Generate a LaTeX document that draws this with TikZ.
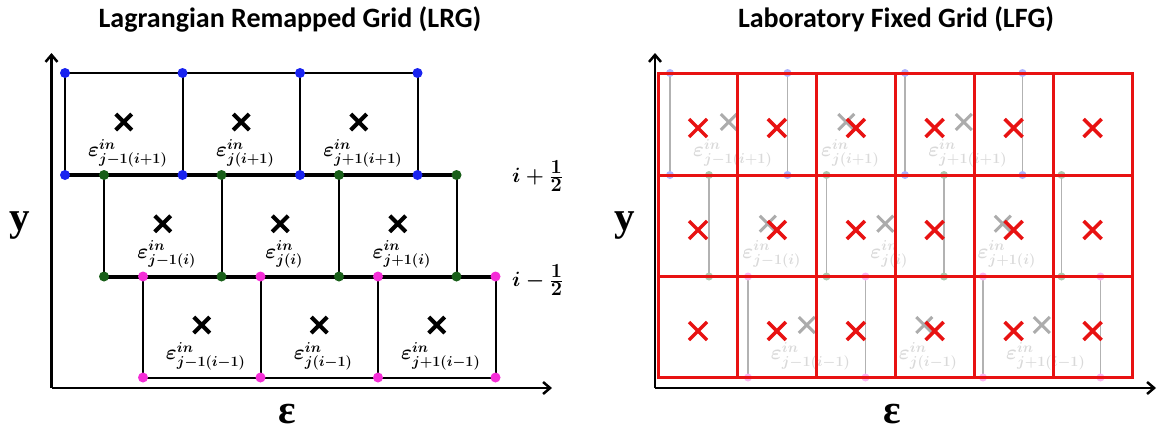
\documentclass[tikz,border=0pt]{standalone}
\usepackage{fontspec}
\newfontfamily\titelfont{Carlito}
\newfontfamily\achsenfont{Liberation Serif}
\usetikzlibrary{arrows.meta}
\definecolor{punktblau}{RGB}{25,35,240}
\definecolor{punktgruen}{RGB}{25,95,25}
\definecolor{punktpink}{RGB}{245,45,215}
\definecolor{gitterrot}{RGB}{232,18,18}
\newcommand{\halbziffer}[1]{\hbox{\fontsize{20}{22}\selectfont\bfseries #1}}

\begin{document}
\begin{tikzpicture}[x=1pt,y=-1pt,
	duenn/.style={line width=2pt},
	dick/.style={line width=4pt},
	achse/.style={line width=2.5pt,-{Straight Barb[length=7pt,width=12pt]}},
	kreuz/.style={line width=4pt},
	eps/.style={inner sep=0pt,font=\fontsize{21}{24}\selectfont\boldmath},
	zeile/.style={anchor=west,inner sep=0pt,font=\fontsize{21}{26}\selectfont\boldmath},
	titel/.style={anchor=base,font=\titelfont\bfseries\fontsize{28}{30}\selectfont},
	achsbez/.style={inner sep=0pt,font=\achsenfont\bfseries\fontsize{41}{44}\selectfont},
	grau/.style={gray!60,line width=1.5pt},
	graukreuz/.style={gray!65,line width=3pt},
	graueps/.style={eps,text=gray!30},
	rot/.style={gitterrot,line width=3pt},
	rotkreuz/.style={gitterrot,line width=3.5pt}]
	
	\useasboundingbox (0,0) rectangle (1157,432);
	
	% ----- Lagrangian Remapped Grid -----
	\node[titel] (titelLRG) at (290,27.5) {Lagrangian Remapped Grid (LRG)};
	
	% Achsen
	\coordinate (O1) at (51.5,388);
	\draw[achse] (O1) -- (51.5,53);
	\draw[achse] (O1) -- (552,388);
	\node[achsbez] (yLRG) at (20,226) {y};
	\node[achsbez] (epsLRG) at (287,414) {ε};
	
	% Zeile oben
	\draw[duenn] (65,73) -- (417.5,73);
	\draw[duenn] (65,73) -- (65,175);
	\draw[duenn] (182.5,73) -- (182.5,175);
	\draw[duenn] (300,73) -- (300,175);
	\draw[duenn] (417.5,73) -- (417.5,175);
	
	% Zeile mitte
	\draw[dick] (65,175) -- (456.5,175);
	\draw[duenn] (104,175) -- (104,276.5);
	\draw[duenn] (221.5,175) -- (221.5,276.5);
	\draw[duenn] (339,175) -- (339,276.5);
	\draw[duenn] (456.5,175) -- (456.5,276.5);
	
	% Zeile unten
	\draw[dick] (104,276.5) -- (495.5,276.5);
	\draw[duenn] (143,276.5) -- (143,377.5);
	\draw[duenn] (260.5,276.5) -- (260.5,377.5);
	\draw[duenn] (378,276.5) -- (378,377.5);
	\draw[duenn] (495.5,276.5) -- (495.5,377.5);
	\draw[duenn] (143,377.5) -- (495.5,377.5);
	
	% Knoten
	\fill[punktblau] (65,73) circle[radius=5pt];
	\fill[punktblau] (182.5,73) circle[radius=5pt];
	\fill[punktblau] (300,73) circle[radius=5pt];
	\fill[punktblau] (417.5,73) circle[radius=5pt];
	\fill[punktblau] (65,175) circle[radius=5pt];
	\fill[punktblau] (182.5,175) circle[radius=5pt];
	\fill[punktblau] (300,175) circle[radius=5pt];
	\fill[punktblau] (417.5,175) circle[radius=5pt];
	\fill[punktgruen] (104,175) circle[radius=5pt];
	\fill[punktgruen] (221.5,175) circle[radius=5pt];
	\fill[punktgruen] (339,175) circle[radius=5pt];
	\fill[punktgruen] (456.5,175) circle[radius=5pt];
	\fill[punktgruen] (104,276.5) circle[radius=5pt];
	\fill[punktgruen] (221.5,276.5) circle[radius=5pt];
	\fill[punktgruen] (339,276.5) circle[radius=5pt];
	\fill[punktgruen] (456.5,276.5) circle[radius=5pt];
	\fill[punktpink] (143,276.5) circle[radius=5pt];
	\fill[punktpink] (260.5,276.5) circle[radius=5pt];
	\fill[punktpink] (378,276.5) circle[radius=5pt];
	\fill[punktpink] (495.5,276.5) circle[radius=5pt];
	\fill[punktpink] (143,377.5) circle[radius=5pt];
	\fill[punktpink] (260.5,377.5) circle[radius=5pt];
	\fill[punktpink] (378,377.5) circle[radius=5pt];
	\fill[punktpink] (495.5,377.5) circle[radius=5pt];
	
	% Kreuze
	\draw[kreuz] (123.75,122) +(-8,-8) -- +(8,8) +(-8,8) -- +(8,-8);
	\draw[kreuz] (241.25,122) +(-8,-8) -- +(8,8) +(-8,8) -- +(8,-8);
	\draw[kreuz] (358.75,122) +(-8,-8) -- +(8,8) +(-8,8) -- +(8,-8);
	\draw[kreuz] (162.75,223.75) +(-8,-8) -- +(8,8) +(-8,8) -- +(8,-8);
	\draw[kreuz] (280.25,223.75) +(-8,-8) -- +(8,8) +(-8,8) -- +(8,-8);
	\draw[kreuz] (397.75,223.75) +(-8,-8) -- +(8,8) +(-8,8) -- +(8,-8);
	\draw[kreuz] (201.75,325) +(-8,-8) -- +(8,8) +(-8,8) -- +(8,-8);
	\draw[kreuz] (319.25,325) +(-8,-8) -- +(8,8) +(-8,8) -- +(8,-8);
	\draw[kreuz] (436.75,325) +(-8,-8) -- +(8,8) +(-8,8) -- +(8,-8);
	
	% Beschriftung Zellen
	\node[eps] (epsA1) at (127.75,153) {$\varepsilon^{in}_{j-1(i+1)}$};
	\node[eps] (epsA2) at (245.25,153) {$\varepsilon^{in}_{j(i+1)}$};
	\node[eps] (epsA3) at (362.75,153) {$\varepsilon^{in}_{j+1(i+1)}$};
	\node[eps] (epsB1) at (166.75,254.75) {$\varepsilon^{in}_{j-1(i)}$};
	\node[eps] (epsB2) at (284.25,254.75) {$\varepsilon^{in}_{j(i)}$};
	\node[eps] (epsB3) at (401.75,254.75) {$\varepsilon^{in}_{j+1(i)}$};
	\node[eps] (epsC1) at (205.75,356) {$\varepsilon^{in}_{j-1(i-1)}$};
	\node[eps] (epsC2) at (323.25,356) {$\varepsilon^{in}_{j(i-1)}$};
	\node[eps] (epsC3) at (440.75,356) {$\varepsilon^{in}_{j+1(i-1)}$};
	
	% Beschriftung rechts
	\node[zeile] (zeileOben) at (512,176) {$i+\frac{\halbziffer{1}}{\halbziffer{2}}$};
	\node[zeile] (zeileUnten) at (512,280) {$i-\frac{\halbziffer{1}}{\halbziffer{2}}$};
	
	% ----- Laboratory Fixed Grid -----
	\node[titel] (titelLFG) at (896,27.5) {Laboratory Fixed Grid (LFG)};
	
	% Achsen
	\coordinate (O2) at (655,388);
	\draw[achse] (O2) -- (655,53);
	\draw[achse] (O2) -- (1156,388);
	\node[achsbez] (yLFG) at (625,226) {y};
	\node[achsbez] (epsLFG) at (892,414) {ε};
	
	% altes Gitter, grau
	\begin{scope}[xshift=605pt]
		\draw[grau] (65,73) -- (417.5,73);
		\draw[grau] (65,73) -- (65,175);
		\draw[grau] (182.5,73) -- (182.5,175);
		\draw[grau] (300,73) -- (300,175);
		\draw[grau] (417.5,73) -- (417.5,175);
		\draw[grau] (65,175) -- (456.5,175);
		\draw[grau] (104,175) -- (104,276.5);
		\draw[grau] (221.5,175) -- (221.5,276.5);
		\draw[grau] (339,175) -- (339,276.5);
		\draw[grau] (456.5,175) -- (456.5,276.5);
		\draw[grau] (104,276.5) -- (495.5,276.5);
		\draw[grau] (143,276.5) -- (143,377.5);
		\draw[grau] (260.5,276.5) -- (260.5,377.5);
		\draw[grau] (378,276.5) -- (378,377.5);
		\draw[grau] (495.5,276.5) -- (495.5,377.5);
		\draw[grau] (143,377.5) -- (495.5,377.5);
		
		\fill[punktblau!35] (65,73) circle[radius=4pt];
		\fill[punktblau!35] (182.5,73) circle[radius=4pt];
		\fill[punktblau!35] (300,73) circle[radius=4pt];
		\fill[punktblau!35] (417.5,73) circle[radius=4pt];
		\fill[punktblau!35] (65,175) circle[radius=4pt];
		\fill[punktblau!35] (182.5,175) circle[radius=4pt];
		\fill[punktblau!35] (300,175) circle[radius=4pt];
		\fill[punktblau!35] (417.5,175) circle[radius=4pt];
		\fill[punktgruen!35] (104,175) circle[radius=4pt];
		\fill[punktgruen!35] (221.5,175) circle[radius=4pt];
		\fill[punktgruen!35] (339,175) circle[radius=4pt];
		\fill[punktgruen!35] (456.5,175) circle[radius=4pt];
		\fill[punktgruen!35] (104,276.5) circle[radius=4pt];
		\fill[punktgruen!35] (221.5,276.5) circle[radius=4pt];
		\fill[punktgruen!35] (339,276.5) circle[radius=4pt];
		\fill[punktgruen!35] (456.5,276.5) circle[radius=4pt];
		\fill[punktpink!35] (143,276.5) circle[radius=4pt];
		\fill[punktpink!35] (260.5,276.5) circle[radius=4pt];
		\fill[punktpink!35] (378,276.5) circle[radius=4pt];
		\fill[punktpink!35] (495.5,276.5) circle[radius=4pt];
		\fill[punktpink!35] (143,377.5) circle[radius=4pt];
		\fill[punktpink!35] (260.5,377.5) circle[radius=4pt];
		\fill[punktpink!35] (378,377.5) circle[radius=4pt];
		\fill[punktpink!35] (495.5,377.5) circle[radius=4pt];
		
		\draw[graukreuz] (123.75,122) +(-8,-8) -- +(8,8) +(-8,8) -- +(8,-8);
		\draw[graukreuz] (241.25,122) +(-8,-8) -- +(8,8) +(-8,8) -- +(8,-8);
		\draw[graukreuz] (358.75,122) +(-8,-8) -- +(8,8) +(-8,8) -- +(8,-8);
		\draw[graukreuz] (162.75,223.75) +(-8,-8) -- +(8,8) +(-8,8) -- +(8,-8);
		\draw[graukreuz] (280.25,223.75) +(-8,-8) -- +(8,8) +(-8,8) -- +(8,-8);
		\draw[graukreuz] (397.75,223.75) +(-8,-8) -- +(8,8) +(-8,8) -- +(8,-8);
		\draw[graukreuz] (201.75,325) +(-8,-8) -- +(8,8) +(-8,8) -- +(8,-8);
		\draw[graukreuz] (319.25,325) +(-8,-8) -- +(8,8) +(-8,8) -- +(8,-8);
		\draw[graukreuz] (436.75,325) +(-8,-8) -- +(8,8) +(-8,8) -- +(8,-8);
		
		\node[graueps] (gepsA1) at (127.75,153) {$\varepsilon^{in}_{j-1(i+1)}$};
		\node[graueps] (gepsA2) at (245.25,153) {$\varepsilon^{in}_{j(i+1)}$};
		\node[graueps] (gepsA3) at (362.75,153) {$\varepsilon^{in}_{j+1(i+1)}$};
		\node[graueps] (gepsB1) at (166.75,254.75) {$\varepsilon^{in}_{j-1(i)}$};
		\node[graueps] (gepsB2) at (284.25,254.75) {$\varepsilon^{in}_{j(i)}$};
		\node[graueps] (gepsB3) at (401.75,254.75) {$\varepsilon^{in}_{j+1(i)}$};
		\node[graueps] (gepsC1) at (205.75,356) {$\varepsilon^{in}_{j-1(i-1)}$};
		\node[graueps] (gepsC2) at (323.25,356) {$\varepsilon^{in}_{j(i-1)}$};
		\node[graueps] (gepsC3) at (440.75,356) {$\varepsilon^{in}_{j+1(i-1)}$};
	\end{scope}
	
	% festes Gitter, rot
	\draw[rot] (658.5,73) rectangle (1132,377.5);
	\draw[rot] (658.5,175) -- (1132,175);
	\draw[rot] (658.5,276.5) -- (1132,276.5);
	\draw[rot] (737.4,73) -- (737.4,377.5);
	\draw[rot] (816.3,73) -- (816.3,377.5);
	\draw[rot] (895.3,73) -- (895.3,377.5);
	\draw[rot] (974.2,73) -- (974.2,377.5);
	\draw[rot] (1053.1,73) -- (1053.1,377.5);
	
	% rote Kreuze
	\draw[rotkreuz] (698,128) +(-9,-9) -- +(9,9) +(-9,9) -- +(9,-9);
	\draw[rotkreuz] (776.9,128) +(-9,-9) -- +(9,9) +(-9,9) -- +(9,-9);
	\draw[rotkreuz] (855.8,128) +(-9,-9) -- +(9,9) +(-9,9) -- +(9,-9);
	\draw[rotkreuz] (934.7,128) +(-9,-9) -- +(9,9) +(-9,9) -- +(9,-9);
	\draw[rotkreuz] (1013.6,128) +(-9,-9) -- +(9,9) +(-9,9) -- +(9,-9);
	\draw[rotkreuz] (1092.6,128) +(-9,-9) -- +(9,9) +(-9,9) -- +(9,-9);
	\draw[rotkreuz] (698,230) +(-9,-9) -- +(9,9) +(-9,9) -- +(9,-9);
	\draw[rotkreuz] (776.9,230) +(-9,-9) -- +(9,9) +(-9,9) -- +(9,-9);
	\draw[rotkreuz] (855.8,230) +(-9,-9) -- +(9,9) +(-9,9) -- +(9,-9);
	\draw[rotkreuz] (934.7,230) +(-9,-9) -- +(9,9) +(-9,9) -- +(9,-9);
	\draw[rotkreuz] (1013.6,230) +(-9,-9) -- +(9,9) +(-9,9) -- +(9,-9);
	\draw[rotkreuz] (1092.6,230) +(-9,-9) -- +(9,9) +(-9,9) -- +(9,-9);
	\draw[rotkreuz] (698,331) +(-9,-9) -- +(9,9) +(-9,9) -- +(9,-9);
	\draw[rotkreuz] (776.9,331) +(-9,-9) -- +(9,9) +(-9,9) -- +(9,-9);
	\draw[rotkreuz] (855.8,331) +(-9,-9) -- +(9,9) +(-9,9) -- +(9,-9);
	\draw[rotkreuz] (934.7,331) +(-9,-9) -- +(9,9) +(-9,9) -- +(9,-9);
	\draw[rotkreuz] (1013.6,331) +(-9,-9) -- +(9,9) +(-9,9) -- +(9,-9);
	\draw[rotkreuz] (1092.6,331) +(-9,-9) -- +(9,9) +(-9,9) -- +(9,-9);
	
\end{tikzpicture}
\end{document}
